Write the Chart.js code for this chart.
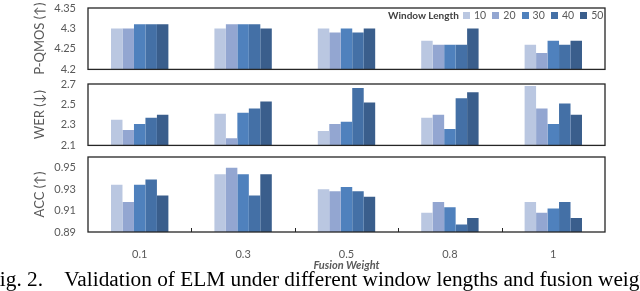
<!DOCTYPE html>
<html>
<head>
<meta charset="utf-8">
<script src="https://cdn.jsdelivr.net/npm/chart.js@4.4.0/dist/chart.umd.min.js"></script>
<style>
    body { margin: 0; width: 640px; height: 291px; overflow: hidden; background: #fff; position: relative; font-family: Lato, sans-serif; }
    canvas { position: absolute; left: 0; }
    #legend { position: absolute; top: 9px; left: 388px; display: flex; align-items: center; font-size: 10.5px; color: #595959; white-space: nowrap; line-height: 12px; }
    #legend b { color: #404040; font-size: 10px; width: 75px; }
    #legend .box { display: inline-block; width: 7px; height: 7px; margin: 0 4px 0 0; }
    #legend .lbl { display: inline-block; width: 18.3px; }
    #caption { position: absolute; top: 269px; left: -12px; font: 21.3px "Liberation Serif", serif; color: #000; white-space: nowrap; line-height: 20px; }
</style>
</head>
<body>
<canvas id="c1" width="640" height="76" style="top:0"></canvas>
<canvas id="c2" width="640" height="76" style="top:76px"></canvas>
<canvas id="c3" width="640" height="122" style="top:150px"></canvas>
<div id="legend"></div>
<div id="caption">Fig. 2.&ensp;&ensp;Validation of ELM under different window lengths and fusion weights.</div>
<script>
const fusionWeights = ['0.1', '0.3', '0.5', '0.8', '1'];
const windowLengths = ['10', '20', '30', '40', '50'];
const barColors = ['#bac7e1', '#93a6d1', '#4f81bd', '#4470a6', '#3a5e8c'];

// P-QMOS, one array per window length
const pqmos10 = [4.30, 4.30, 4.30, 4.27, 4.26];
const pqmos20 = [4.30, 4.31, 4.29, 4.26, 4.24];
const pqmos30 = [4.31, 4.31, 4.30, 4.26, 4.27];
const pqmos40 = [4.31, 4.31, 4.29, 4.26, 4.26];
const pqmos50 = [4.31, 4.30, 4.30, 4.30, 4.27];
const pqmosTicks = [4.2, 4.25, 4.3, 4.35];

// WER
const wer10 = [2.35, 2.41, 2.24, 2.37, 2.68];
const wer20 = [2.25, 2.17, 2.31, 2.40, 2.46];
const wer30 = [2.31, 2.42, 2.33, 2.26, 2.31];
const wer40 = [2.37, 2.46, 2.66, 2.56, 2.51];
const wer50 = [2.40, 2.53, 2.52, 2.62, 2.40];
const werTicks = [2.1, 2.3, 2.5, 2.7];

// ACC
const acc10 = [0.934, 0.944, 0.930, 0.908, 0.918];
const acc20 = [0.918, 0.950, 0.928, 0.918, 0.908];
const acc30 = [0.934, 0.944, 0.932, 0.913, 0.912];
const acc40 = [0.939, 0.924, 0.928, 0.897, 0.918];
const acc50 = [0.924, 0.944, 0.923, 0.903, 0.903];
const accTicks = [0.89, 0.91, 0.93, 0.95];

const grey = '#595959';

// legend
const legend = document.getElementById('legend');
legend.innerHTML = '<b>Window Length</b>' + windowLengths.map((w, i) =>
    `<span class="box" style="background:${barColors[i]}"></span><span class="lbl">${w}</span>`).join('');

const framePlugin = {
    id: 'frame',
    afterDraw(chart) {
        const a = chart.chartArea;
        const ctx = chart.ctx;
        ctx.save();
        ctx.strokeStyle = '#262626';
        ctx.lineWidth = 1.3;
        ctx.strokeRect(a.left, a.top, a.right - a.left, a.bottom - a.top);
        if (chart.options.plugins.frame && chart.options.plugins.frame.ticks) {
            const x = chart.scales.x;
            ctx.lineWidth = 1;
            for (let i = 1; i < fusionWeights.length; i++) {
                const px = Math.round((x.getPixelForValue(i - 1) + x.getPixelForValue(i)) / 2) + 0.5;
                ctx.beginPath();
                ctx.moveTo(px, a.bottom);
                ctx.lineTo(px, a.bottom - 4);
                ctx.stroke();
            }
        }
        ctx.restore();
    }
};

function makeChart(id, series, ticks, min, max, title, showX, padTop) {
    const ctx = document.getElementById(id).getContext('2d');
    const xScale = {
        display: showX,
        grid: { display: false, drawTicks: false },
        border: { display: false },
        ticks: { font: { family: 'Lato', size: 11 }, color: grey, padding: 16 },
        title: {
            display: showX,
            text: 'Fusion Weight',
            font: { family: 'Lato', size: 11, weight: 'bold', style: 'italic' },
            color: grey,
            padding: { top: 0, bottom: 0 }
        }
    };
    if (showX) {
        xScale.afterFit = s => { s.height = 40; };
    }
    return new Chart(ctx, {
        type: 'bar',
        data: {
            labels: fusionWeights,
            datasets: series.map((d, i) => ({
                label: windowLengths[i],
                data: d,
                backgroundColor: barColors[i],
                borderWidth: 0,
                barPercentage: 1,
                categoryPercentage: 0.555
            }))
        },
        options: {
            responsive: false,
            animation: false,
            layout: { padding: { top: padTop, bottom: showX ? 0 : 5, left: 0, right: 35 } },
            plugins: {
                legend: { display: false },
                tooltip: { enabled: false },
                frame: { ticks: showX }
            },
            scales: {
                x: xScale,
                y: {
                    min: min,
                    max: max,
                    afterBuildTicks: s => { s.ticks = ticks.map(v => ({ value: v })); },
                    grid: { display: false, drawTicks: true, tickLength: 12 },
                    border: { display: false },
                    ticks: { font: { family: 'Lato', size: 11 }, color: grey, padding: 0, callback: v => String(v) },
                    title: {
                        display: true,
                        text: title,
                        font: { family: 'Lato', size: 13 },
                        color: grey,
                        padding: { top: 32, bottom: 0 }
                    },
                    afterFit: s => { s.width = 88; }
                }
            }
        },
        plugins: [framePlugin]
    });
}

makeChart('c1', [pqmos10, pqmos20, pqmos30, pqmos40, pqmos50], pqmosTicks, 4.2, 4.35, 'P-QMOS (↑)', false, 8);
makeChart('c2', [wer10, wer20, wer30, wer40, wer50], werTicks, 2.1, 2.7, 'WER (↓)', false, 8);
makeChart('c3', [acc10, acc20, acc30, acc40, acc50], accTicks, 0.89, 0.96, 'ACC (↑)', true, 7);
</script>
</body>
</html>
